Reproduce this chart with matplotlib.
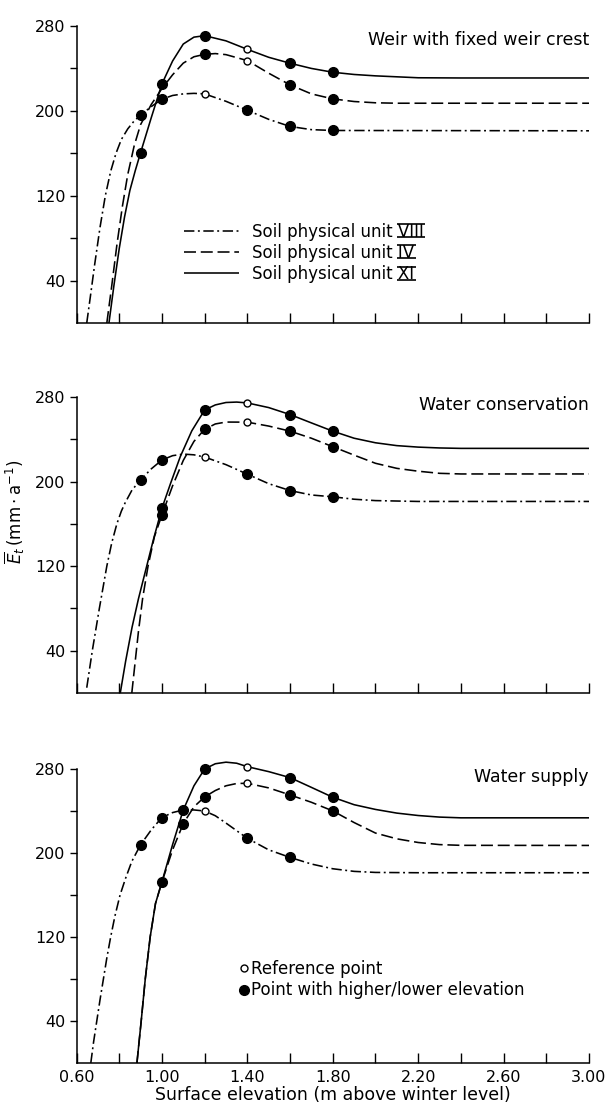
import matplotlib
matplotlib.use('Agg')
import matplotlib.pyplot as plt
from matplotlib.lines import Line2D

plt.rcParams['font.family'] = ['DejaVu Sans']
plt.rcParams['mathtext.fontset'] = 'dejavusans'

# values (x: surface elevation, y: Et mm/a)
# --- weir with fixed weir crest
weir_viii = [(0.648, 0), (0.665, 25), (0.685, 55), (0.71, 90), (0.735, 120), (0.76, 143),
             (0.785, 160), (0.81, 173), (0.84, 183), (0.87, 190.5), (0.9, 196), (0.95, 204),
             (1.0, 211), (1.05, 214.5), (1.1, 216), (1.15, 216.5), (1.2, 216), (1.3, 209),
             (1.4, 200.6), (1.5, 192), (1.6, 185.3), (1.7, 182.3), (1.8, 181.5), (3.0, 181.2)]
weir_iv = [(0.742, 0), (0.765, 35), (0.79, 75), (0.815, 110), (0.84, 140), (0.87, 167),
           (0.9, 187), (0.95, 206), (1.0, 221), (1.05, 234), (1.1, 245), (1.15, 251),
           (1.2, 253.3), (1.25, 254), (1.3, 253), (1.4, 247.4), (1.5, 235.5), (1.6, 224.5),
           (1.7, 216), (1.8, 211.3), (1.9, 208.8), (2.0, 207.6), (2.1, 207.2), (3.0, 207.2)]
weir_xi = [(0.752, 0), (0.775, 35), (0.8, 70), (0.825, 100), (0.85, 125), (0.875, 143.5),
           (0.9, 160.5), (0.95, 193.5), (1.0, 225.4), (1.05, 247), (1.1, 263), (1.15, 269.5),
           (1.2, 270.9), (1.3, 266), (1.4, 258), (1.5, 250.5), (1.6, 244.9), (1.7, 240),
           (1.8, 236.4), (1.9, 234.3), (2.0, 233), (2.2, 231.2), (2.4, 231), (3.0, 231)]

# --- water conservation
cons_viii = [(0.648, 5), (0.674, 40), (0.707, 80), (0.742, 120), (0.765, 142), (0.789, 160),
             (0.81, 172), (0.828, 180), (0.86, 192), (0.9, 201.6), (0.95, 212), (1.0, 220.4),
             (1.05, 224.5), (1.1, 226), (1.15, 225.3), (1.2, 223.2), (1.3, 216), (1.4, 207),
             (1.5, 198), (1.6, 191.5), (1.7, 187.3), (1.8, 185.6), (1.9, 183.3), (2.0, 182),
             (2.2, 181.2), (3.0, 181.2)]
cons_iv = [(0.859, 0), (0.875, 30), (0.89, 58), (0.91, 90), (0.935, 120), (0.965, 148),
           (1.0, 168.4), (1.05, 196), (1.1, 220), (1.15, 238), (1.2, 249.4), (1.25, 254.5),
           (1.3, 256.3), (1.4, 256.2), (1.5, 252.5), (1.6, 247.7), (1.7, 241), (1.8, 233),
           (1.9, 225), (2.0, 217.3), (2.1, 212.5), (2.2, 209.8), (2.3, 207.8), (2.4, 207.2),
           (3.0, 207.2)]
cons_xi = [(0.805, 0), (0.83, 30), (0.86, 62), (0.89, 89), (0.92, 113), (0.96, 145),
           (1.0, 174.7), (1.04, 198), (1.086, 223.6), (1.14, 248), (1.2, 267.7), (1.25, 272.5),
           (1.3, 274.8), (1.35, 275.2), (1.4, 274.4), (1.5, 270), (1.6, 263.4), (1.7, 255.5),
           (1.8, 247.7), (1.9, 241), (2.0, 236.7), (2.1, 234), (2.2, 232.6), (2.3, 231.8),
           (2.4, 231.4), (3.0, 231.4)]

# --- water supply
supp_viii = [(0.667, 0), (0.68, 20), (0.695, 40), (0.71, 60), (0.726, 80), (0.742, 100),
             (0.76, 120), (0.78, 140), (0.804, 160), (0.83, 176), (0.859, 192), (0.9, 207.8),
             (0.95, 222), (1.0, 233.8), (1.05, 238.5), (1.1, 241), (1.15, 241), (1.2, 240),
             (1.25, 235.5), (1.3, 228.5), (1.4, 214), (1.5, 203), (1.6, 195.8), (1.7, 189.5),
             (1.8, 185), (1.9, 182.5), (2.0, 181.5), (2.2, 181.2), (3.0, 181.2)]
supp_iv = [(0.883, 0), (0.893, 20), (0.903, 40), (0.922, 80), (0.945, 120), (0.97, 152),
           (1.0, 172.4), (1.05, 203), (1.1, 228), (1.15, 244), (1.2, 253.4), (1.25, 259.5),
           (1.3, 264), (1.35, 266.2), (1.4, 266.4), (1.5, 262), (1.6, 255.3), (1.7, 248.3),
           (1.8, 240.1), (1.9, 229), (2.0, 219), (2.1, 213.5), (2.2, 210), (2.3, 208),
           (2.4, 207.3), (3.0, 207.2)]
supp_xi = [(0.883, 0), (0.893, 20), (0.903, 40), (0.922, 80), (0.945, 120), (0.97, 152),
           (1.0, 172.4), (1.05, 208), (1.1, 241), (1.15, 264), (1.2, 280), (1.25, 285),
           (1.3, 286.5), (1.35, 285.5), (1.4, 282.2), (1.5, 277.5), (1.6, 271.8), (1.7, 262.5),
           (1.8, 253.1), (1.9, 246), (2.0, 241.5), (2.1, 238), (2.2, 235.7), (2.3, 234.2),
           (2.4, 233.5), (3.0, 233.5)]

# marked points: filled = higher/lower elevation, open = reference point
weir_marks = {'viii': [0.9, 1.0, 1.4, 1.6, 1.8], 'iv': [1.2, 1.6, 1.8], 'xi': [0.9, 1.0, 1.2, 1.6, 1.8]}
weir_refs = {'viii': 1.2, 'iv': 1.4, 'xi': 1.4}
cons_marks = {'viii': [0.9, 1.0, 1.4, 1.6, 1.8], 'iv': [1.0, 1.2, 1.6, 1.8], 'xi': [1.0, 1.2, 1.6, 1.8]}
cons_refs = {'viii': 1.2, 'iv': 1.4, 'xi': 1.4}
supp_marks = {'viii': [0.9, 1.0, 1.1, 1.4, 1.6], 'iv': [1.1, 1.2, 1.6, 1.8], 'xi': [1.0, 1.2, 1.6, 1.8]}
supp_refs = {'viii': 1.2, 'iv': 1.4, 'xi': 1.4}

titles = ['Weir with fixed weir crest', 'Water conservation', 'Water supply']
numerals = ['VIII', 'IV', 'XI']
unit_labels = ['Soil physical unit ' + n for n in numerals]

styles = {'viii': (0, (6.5, 2.2, 1.2, 2.2)), 'iv': (0, (7.5, 3.0)), 'xi': '-'}

fig = plt.figure(figsize=(6.06, 11.08), dpi=100)
W, H = 606.0, 1108.0
boxes = [(26, 323), (397, 693), (769, 1063)]
x0, x1 = 76.5, 589.0

panels = [
    ({'viii': weir_viii, 'iv': weir_iv, 'xi': weir_xi}, weir_marks, weir_refs, 267),
    ({'viii': cons_viii, 'iv': cons_iv, 'xi': cons_xi}, cons_marks, cons_refs, 272),
    ({'viii': supp_viii, 'iv': supp_iv, 'xi': supp_xi}, supp_marks, supp_refs, 272),
]

unit_legend = None
for i, (curves, marks, refs, ty) in enumerate(panels):
    top, bot = boxes[i]
    ax = fig.add_axes([x0 / W, 1 - bot / H, (x1 - x0) / W, (bot - top) / H])
    lines = []
    for key in ['viii', 'iv', 'xi']:
        xs = [p[0] for p in curves[key]]
        ys = [p[1] for p in curves[key]]
        ln, = ax.plot(xs, ys, color='black', lw=1.15, linestyle=styles[key], clip_on=False,
                      solid_capstyle='butt', dash_capstyle='butt')
        lines.append(ln)
        lookup = dict(curves[key])
        mx = marks[key]
        ax.plot(mx, [lookup[v] for v in mx], 'o', color='black', ms=7, clip_on=False, zorder=5)
        ax.plot([refs[key]], [lookup[refs[key]]], 'o', mfc='white', mec='black', mew=1.0,
                ms=5, clip_on=False, zorder=5)

    ax.set_xlim(0.6, 3.0)
    ax.set_ylim(0, 280)
    for s in ['top', 'right']:
        ax.spines[s].set_visible(False)
    for s in ['left', 'bottom']:
        ax.spines[s].set_linewidth(1.1)
    ax.set_xticks([0.6, 1.0, 1.4, 1.8, 2.2, 2.6, 3.0])
    ax.set_xticks([0.8, 1.2, 1.6, 2.0, 2.4, 2.8], minor=True)
    ax.set_yticks([40, 120, 200, 280])
    ax.set_yticks([80, 160, 240], minor=True)
    ax.tick_params(axis='x', which='both', direction='in', length=7, width=1.0, labelsize=11.5, pad=5)
    ax.tick_params(axis='y', which='both', direction='out', length=5, width=1.0, labelsize=11.5, pad=3)
    if i < 2:
        ax.tick_params(axis='x', labelbottom=False)
    else:
        ax.set_xticklabels(['0.60', '1.00', '1.40', '1.80', '2.20', '2.60', '3.00'])
        ax.set_xlabel('Surface elevation (m above winter level)', fontsize=12.5, labelpad=1)

    ax.text(1.0, ty, titles[i], transform=ax.get_yaxis_transform(), ha='right', va='center',
            fontsize=12.5)

    if i == 0:
        unit_legend = ax.legend(lines, unit_labels, loc='upper left', bbox_to_anchor=(0.21, 0.338),
                                frameon=False, fontsize=12, handlelength=3.3, handletextpad=0.8,
                                labelspacing=0.2, borderpad=0, borderaxespad=0)
    if i == 2:
        h_ref = Line2D([], [], ls='none', marker='o', mfc='white', mec='black', mew=1.0, ms=5)
        h_pt = Line2D([], [], ls='none', marker='o', color='black', ms=7)
        ax.legend([h_ref, h_pt], ['Reference point', 'Point with higher/lower elevation'],
                  loc='upper left', bbox_to_anchor=(0.318, 0.35), frameon=False, fontsize=12,
                  handlelength=0.6, handletextpad=0.1, labelspacing=0.2, borderpad=0,
                  borderaxespad=0)

fig.text(15 / W, 1 - 512 / H, r'$\overline{E}_t\,(\mathrm{mm\cdot a^{-1}})$', rotation=90,
         ha='center', va='center', fontsize=12)

# bars above and below the roman numerals, as printed in the original
fig.canvas.draw()
renderer = fig.canvas.get_renderer()
for t, num in zip(unit_legend.get_texts(), numerals):
    bb = t.get_window_extent(renderer)
    prop = t.get_fontproperties()
    w_num, _, _ = renderer.get_text_width_height_descent(num, prop, ismath=False)
    _, _, d_full = renderer.get_text_width_height_descent(t.get_text(), prop, ismath=False)
    base = bb.y0 + d_full
    cap = 0.73 * prop.get_size_in_points() * fig.dpi / 72.0
    for yy in (base - 0.5, base + cap + 0.5):
        fig.add_artist(Line2D([bb.x1 - w_num - 1, bb.x1 + 1], [yy, yy], transform=None,
                              color='black', lw=1.2, solid_capstyle='butt'))

fig.savefig('out.png', dpi=100, facecolor='white')
